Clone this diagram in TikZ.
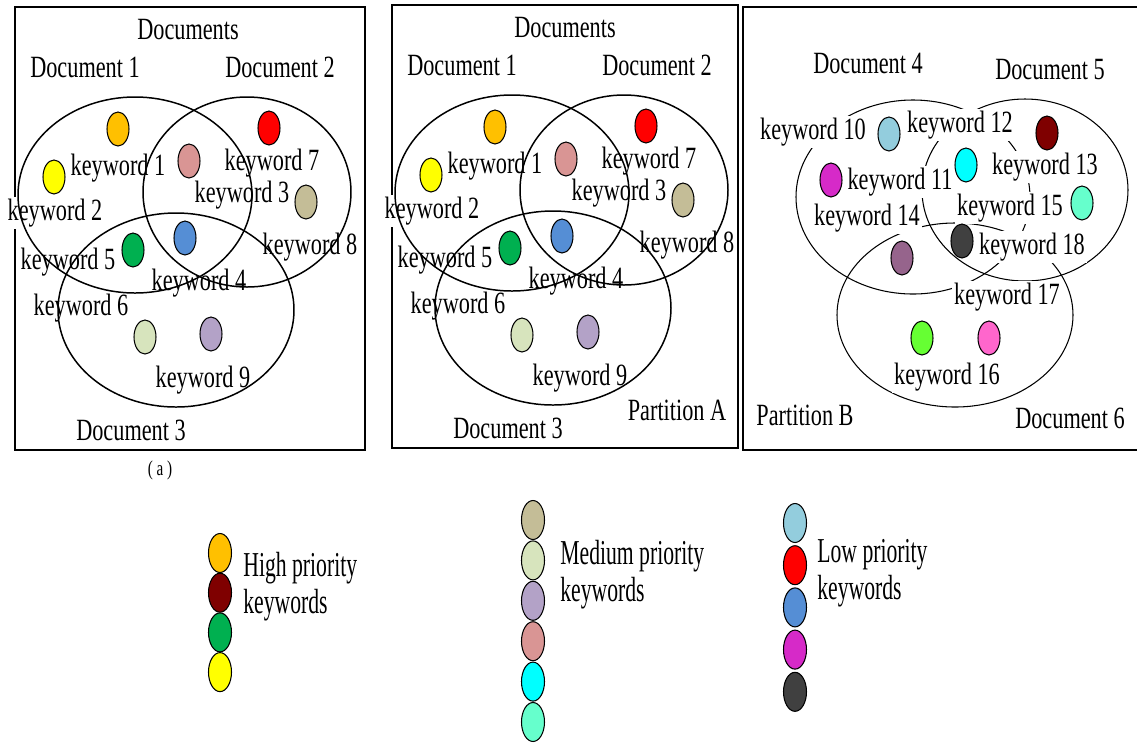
\documentclass[tikz,border=0pt]{standalone}
\usepackage{fontspec}
\setmainfont{Liberation Serif}[FakeStretch=0.72]
\newfontfamily\legfont{Liberation Serif}[FakeStretch=0.62]
\usepackage{tikz}
\usetikzlibrary{positioning,shapes.geometric}

\definecolor{kworange}{HTML}{FFC000}
\definecolor{kwyellow}{HTML}{FFFF00}
\definecolor{kwrose}{HTML}{D99594}
\definecolor{kwred}{HTML}{FF0000}
\definecolor{kwtan}{HTML}{C4BD97}
\definecolor{kwblue}{HTML}{558ED5}
\definecolor{kwgreen}{HTML}{00B050}
\definecolor{kwpale}{HTML}{D7E4BD}
\definecolor{kwlav}{HTML}{B3A2C7}
\definecolor{kwsky}{HTML}{93CDDD}
\definecolor{kwmaroon}{HTML}{7F0000}
\definecolor{kwcyan}{HTML}{00FFFF}
\definecolor{kwmagenta}{HTML}{D62AC8}
\definecolor{kwaqua}{HTML}{66FFCC}
\definecolor{kwdark}{HTML}{404040}
\definecolor{kwplum}{HTML}{96648C}
\definecolor{kwlime}{HTML}{66FF33}
\definecolor{kwpink}{HTML}{FF66CC}

\begin{document}
\begin{tikzpicture}[x=0.02cm, y=-0.02cm,
	kw/.style={ellipse, draw=black, line width=0.6pt, minimum width=0.44cm, minimum height=0.68cm, inner sep=0pt},
	legkw/.style={kw, minimum width=0.46cm, minimum height=0.78cm},
	lbl/.style={font=\fontsize{17.6}{20}\selectfont, inner sep=1pt},
	wlbl/.style={lbl, fill=white},
	leg/.style={font=\legfont\fontsize{19.9}{21}\selectfont, align=left, anchor=west, inner sep=0pt},
	docline/.style={line width=0.85pt},
	thin doc/.style={line width=0.6pt},
	panel/.style={line width=1pt}]
	\useasboundingbox (0,0) rectangle (1137,745);

	\draw[panel] (15,7) rectangle (365,450);
	\draw[panel] (392,5) rectangle (738,448);
	\draw[panel] (1140,7) -- (743,7) -- (743,450) -- (1140,450);

	\foreach \p/\dx/\dy in {a/0/0, b/377/-2} {
		\begin{scope}[shift={(\dx,\dy)}]
			\foreach \n/\x/\y in {1/118/168, 2/55/213, 3/242/195, 4/199/283, 5/68/262, 6/81/308, 7/272/163, 8/310/247, 9/203/380}
				\node[wlbl] (kw\n\p) at (\x,\y) {keyword \n};
			\node[lbl] (docs\p) at (188,30) {Documents};
			\node[lbl] (doc1\p) at (85,67) {Document 1};
			\node[lbl] (doc2\p) at (280,67) {Document 2};
			\node[lbl] (doc3\p) at (131,430) {Document 3};
			\draw[docline] (135,195) ellipse [x radius=117, y radius=98];
			\draw[docline] (247,192) ellipse [x radius=104, y radius=95];
			\draw[docline] (176,310) ellipse [x radius=118, y radius=97];
			\foreach \n/\c/\x/\y in {1/kworange/118/129, 2/kwyellow/54/177, 3/kwrose/189/161, 4/kwblue/185/238, 5/kwgreen/133/250, 6/kwpale/145/337, 7/kwred/269/128, 8/kwtan/306/202, 9/kwlav/211/334}
				\node[kw, fill=\c] (dot\n\p) at (\x,\y) {};
		\end{scope}
	}
	\node[font=\fontsize{12}{13}\selectfont] (cap) at (160,470) {( a )};
	\node[lbl] (partA) at (677,410) {Partition A};

	\draw[thin doc] (913,197) ellipse [x radius=117, y radius=97];
	\draw[thin doc] (1025,190) ellipse [x radius=103, y radius=91];
	\draw[thin doc] (955,315) ellipse [x radius=118, y radius=92];
	\node[lbl] (doc4) at (868,63) {Document 4};
	\node[lbl] (doc5) at (1050,70) {Document 5};
	\node[lbl] (doc6) at (1070,418) {Document 6};
	\node[lbl] (partB) at (805,415) {Partition B};
	\foreach \n/\x/\y in {10/813/132, 12/960/125, 11/900/182, 13/1045/167, 14/867/218, 15/1010/208, 18/1032/247, 17/1007/297, 16/947/377}
		\node[wlbl] (kw\n) at (\x,\y) {keyword \n};
	\foreach \n/\c/\x/\y in {10/kwsky/889/134, 11/kwmagenta/831/180, 12/kwcyan/966/165, 13/kwmaroon/1047/133, 14/kwplum/902/258, 15/kwaqua/1082/203, 16/kwlime/922/338, 17/kwpink/989/338, 18/kwdark/962/241}
		\node[kw, fill=\c] (dot\n) at (\x,\y) {};

	\foreach \c [count=\i] in {kworange, kwmaroon, kwgreen, kwyellow}
		\node[legkw, fill=\c] (high\i) at (220,{553+39.7*(\i-1)}) {};
	\node[leg] (hightxt) at (243,587) {High priority\\keywords};
	\foreach \c [count=\i] in {kwtan, kwpale, kwlav, kwrose, kwcyan, kwaqua}
		\node[legkw, fill=\c] (med\i) at (533,{520+40.4*(\i-1)}) {};
	\node[leg] (medtxt) at (560,575) {Medium priority\\keywords};
	\foreach \c [count=\i] in {kwsky, kwred, kwblue, kwmagenta, kwdark}
		\node[legkw, fill=\c] (low\i) at (795,{523+42.2*(\i-1)}) {};
	\node[leg] (lowtxt) at (817,573) {Low priority\\keywords};
\end{tikzpicture}
\end{document}
